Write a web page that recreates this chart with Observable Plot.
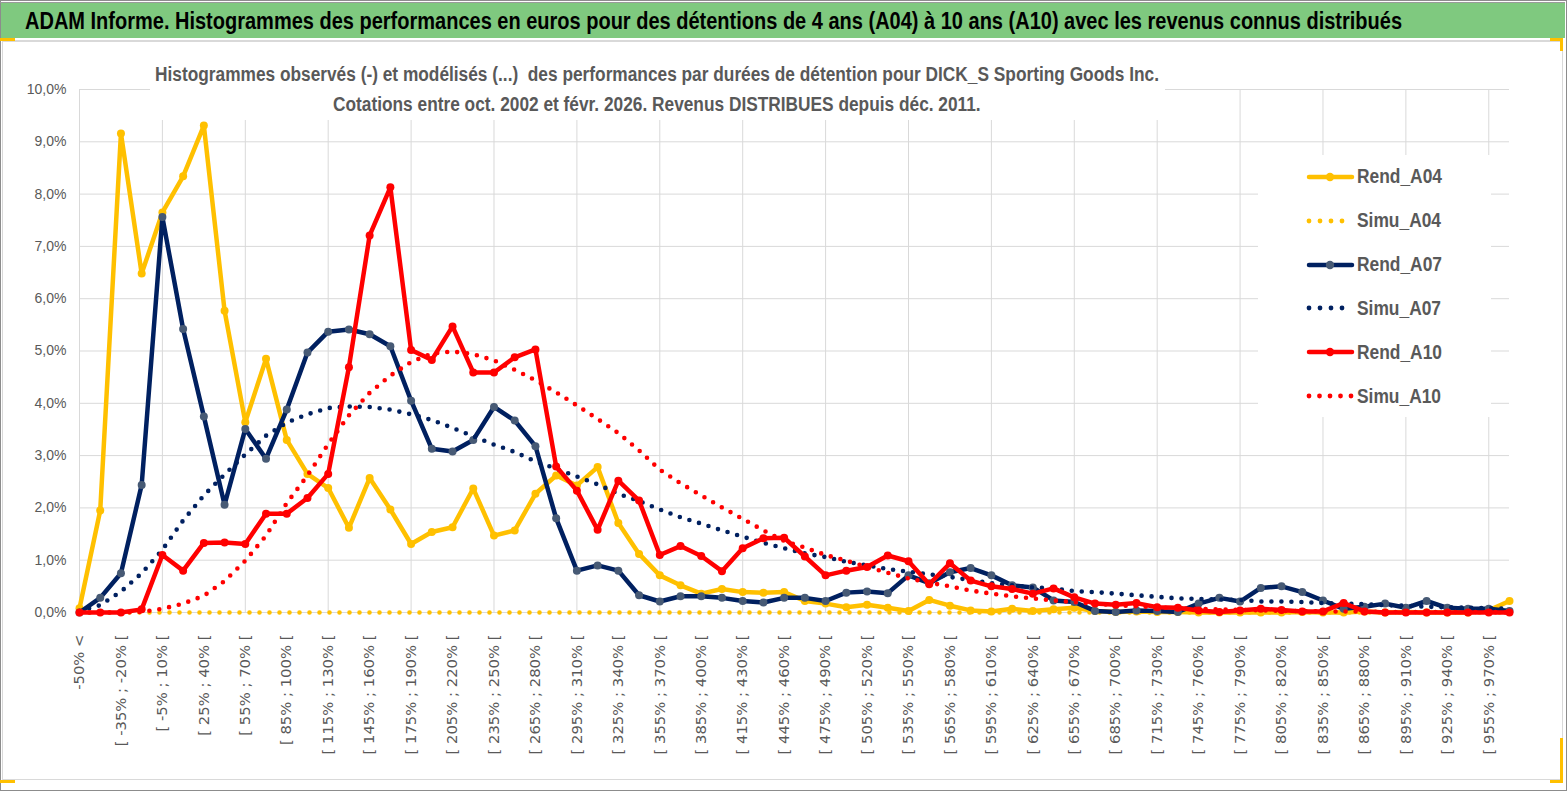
<!DOCTYPE html>
<html>
<head>
<meta charset="utf-8">
<script src="https://cdn.jsdelivr.net/npm/d3@7"></script>
<script src="https://cdn.jsdelivr.net/npm/@observablehq/plot@0.6"></script>
<style>
  body { margin: 0; background: #fff; }
  #wrap { position: relative; width: 1567px; height: 791px; overflow: hidden; background: #fff; font-family: "Liberation Sans", Arial, sans-serif; }
  #banner { position: absolute; left: 0; top: 3px; width: 1565px; height: 35px; background: #7fc97f; }
  #bannerText { position: absolute; left: 25px; top: 10px; font-weight: bold; font-size: 23px; line-height: 1; color: #000; white-space: pre; transform-origin: 0 0; }
  #plot { position: absolute; left: 0; top: 40px; }
  #titleBox { position: absolute; left: 150px; top: 56px; width: 1015px; height: 64px; background: #fff; }
  .tline { position: absolute; font-weight: bold; font-size: 20px; line-height: 1; color: #595959; white-space: pre; transform-origin: 0 0; }
  #legendBox { position: absolute; left: 1258px; top: 155px; width: 233px; height: 262px; background: #fff; }
  .ltext { position: absolute; left: 1357px; font-weight: bold; font-size: 19.5px; line-height: 1; color: #595959; white-space: pre; transform-origin: 0 0; }
  .lsw { position: absolute; left: 1300px; width: 60px; height: 16px; }
  .deco { position: absolute; }
</style>
</head>
<body>
<div id="wrap">
  <div id="banner"></div>
  <div id="bannerText">ADAM Informe. Histogrammes des performances en euros pour des détentions de 4 ans (A04) à 10 ans (A10) avec les revenus connus distribués</div>
  <div id="plot"></div>
  <div id="titleBox"></div>
  <div class="tline" id="t1" style="top:64px;left:155px;">Histogrammes observés (-) et modélisés (...)  des performances par durées de détention pour DICK_S Sporting Goods Inc.</div>
  <div class="tline" id="t2" style="top:94px;left:330px;">Cotations entre oct. 2002 et févr. 2026. Revenus DISTRIBUES depuis déc. 2011.</div>
  <div id="legendBox"></div>
  <div id="legend"></div>
  <!-- frame decorations -->
  <div class="deco" style="left:0;top:0;width:1565px;height:789px;border:1px solid #8c8c8c;"></div>
  <div class="deco" style="left:0;top:2px;width:1565px;height:1px;background:#9a9a9a;"></div>
  <div class="deco" style="left:2px;top:40px;width:1559px;height:737px;border:1px solid #d9d9d9;border-top:2px solid #d9d9d9;"></div>
  <div class="deco" style="left:0;top:38px;width:15px;height:3px;background:#ffc000;"></div>
  <div class="deco" style="left:1550px;top:38px;width:13px;height:3px;background:#ffc000;"></div>
  <div class="deco" style="left:1560px;top:38px;width:3px;height:13px;background:#ffc000;"></div>
  <div class="deco" style="left:0;top:780px;width:15px;height:3px;background:#ffc000;"></div>
  <div class="deco" style="left:1550px;top:780px;width:13px;height:3px;background:#ffc000;"></div>
  <div class="deco" style="left:1560px;top:738px;width:3px;height:45px;background:#ffc000;"></div>
</div>
<script>
// ---------- DATA ----------
const categories = [
  "-50% <",
  "[ -50% ; -35% [", "[ -35% ; -20% [", "[ -20% ; -5% [", "[ -5% ; 10% [", "[ 10% ; 25% [",
  "[ 25% ; 40% [", "[ 40% ; 55% [", "[ 55% ; 70% [", "[ 70% ; 85% [", "[ 85% ; 100% [",
  "[ 100% ; 115% [", "[ 115% ; 130% [", "[ 130% ; 145% [", "[ 145% ; 160% [", "[ 160% ; 175% [",
  "[ 175% ; 190% [", "[ 190% ; 205% [", "[ 205% ; 220% [", "[ 220% ; 235% [", "[ 235% ; 250% [",
  "[ 250% ; 265% [", "[ 265% ; 280% [", "[ 280% ; 295% [", "[ 295% ; 310% [", "[ 310% ; 325% [",
  "[ 325% ; 340% [", "[ 340% ; 355% [", "[ 355% ; 370% [", "[ 370% ; 385% [", "[ 385% ; 400% [",
  "[ 400% ; 415% [", "[ 415% ; 430% [", "[ 430% ; 445% [", "[ 445% ; 460% [", "[ 460% ; 475% [",
  "[ 475% ; 490% [", "[ 490% ; 505% [", "[ 505% ; 520% [", "[ 520% ; 535% [", "[ 535% ; 550% [",
  "[ 550% ; 565% [", "[ 565% ; 580% [", "[ 580% ; 595% [", "[ 595% ; 610% [", "[ 610% ; 625% [",
  "[ 625% ; 640% [", "[ 640% ; 655% [", "[ 655% ; 670% [", "[ 670% ; 685% [", "[ 685% ; 700% [",
  "[ 700% ; 715% [", "[ 715% ; 730% [", "[ 730% ; 745% [", "[ 745% ; 760% [", "[ 760% ; 775% [",
  "[ 775% ; 790% [", "[ 790% ; 805% [", "[ 805% ; 820% [", "[ 820% ; 835% [", "[ 835% ; 850% [",
  "[ 850% ; 865% [", "[ 865% ; 880% [", "[ 880% ; 895% [", "[ 895% ; 910% [", "[ 910% ; 925% [",
  "[ 925% ; 940% [", "[ 940% ; 955% [", "[ 955% ; 970% [",
  "> 970%"
];

// values in %
const rendA04 = [
  0.08, 1.95, 9.16, 6.48, 7.65, 8.34, 9.31, 5.77, 3.64, 4.85,
  3.30, 2.65, 2.38, 1.62, 2.57, 1.97, 1.31, 1.54, 1.63, 2.37,
  1.47, 1.57, 2.27, 2.62, 2.43, 2.78, 1.71, 1.12, 0.71, 0.52,
  0.36, 0.45, 0.39, 0.38, 0.39, 0.22, 0.17, 0.10, 0.15, 0.09,
  0.03, 0.24, 0.13, 0.04, 0.02, 0.07, 0.03, 0.06, 0.09, 0.03,
  0.01, 0.02, 0.01, 0.01, 0.00, 0.00, 0.00, 0.00, 0.00, 0.01,
  0.00, 0.00, 0.02, 0.00, 0.01, 0.00, 0.00, 0.00, 0.04, 0.22
];
const simuA04 = [
  0, 0, 0, 0, 0, 0, 0, 0, 0, 0,
  0, 0, 0, 0, 0, 0, 0, 0, 0, 0,
  0, 0, 0, 0, 0, 0, 0, 0, 0, 0,
  0, 0, 0, 0, 0, 0, 0, 0, 0, 0,
  0, 0, 0, 0, 0, 0, 0, 0, 0, 0,
  0, 0, 0, 0, 0, 0, 0, 0, 0, 0,
  0, 0, 0, 0, 0, 0, 0, 0, 0, 0
];
const rendA07 = [
  0.00, 0.28, 0.75, 2.44, 7.56, 5.42, 3.75, 2.06, 3.51, 2.94,
  3.88, 4.97, 5.37, 5.41, 5.32, 5.09, 4.05, 3.13, 3.08, 3.30,
  3.93, 3.67, 3.18, 1.80, 0.80, 0.90, 0.80, 0.33, 0.21, 0.31,
  0.31, 0.28, 0.22, 0.19, 0.28, 0.28, 0.22, 0.38, 0.40, 0.37,
  0.71, 0.56, 0.77, 0.85, 0.71, 0.52, 0.48, 0.23, 0.20, 0.03,
  0.01, 0.04, 0.03, 0.01, 0.17, 0.28, 0.21, 0.47, 0.50, 0.39,
  0.23, 0.07, 0.11, 0.17, 0.09, 0.22, 0.09, 0.07, 0.07, 0.03
];
const simuA07 = [
  0.03, 0.14, 0.40, 0.75, 1.20, 1.76, 2.24, 2.64, 3.02, 3.38,
  3.63, 3.79, 3.91, 3.94, 3.93, 3.88, 3.79, 3.68, 3.53, 3.37,
  3.21, 3.07, 2.89, 2.75, 2.60, 2.45, 2.27, 2.13, 1.97, 1.82,
  1.70, 1.57, 1.45, 1.33, 1.23, 1.13, 1.06, 0.97, 0.90, 0.83,
  0.78, 0.73, 0.68, 0.62, 0.56, 0.52, 0.48, 0.46, 0.41, 0.39,
  0.36, 0.33, 0.30, 0.27, 0.26, 0.25, 0.24, 0.21, 0.21, 0.20,
  0.18, 0.17, 0.16, 0.14, 0.13, 0.11, 0.10, 0.09, 0.08, 0.07
];
const rendA10 = [
  0.00, 0.00, 0.00, 0.06, 1.10, 0.80, 1.33, 1.34, 1.31, 1.89,
  1.89, 2.19, 2.65, 4.69, 7.21, 8.13, 5.02, 4.83, 5.47, 4.59,
  4.59, 4.88, 5.03, 2.79, 2.33, 1.58, 2.52, 2.14, 1.10, 1.27,
  1.08, 0.79, 1.23, 1.42, 1.43, 1.07, 0.71, 0.80, 0.87, 1.09,
  0.98, 0.54, 0.94, 0.61, 0.50, 0.45, 0.36, 0.46, 0.29, 0.17,
  0.15, 0.18, 0.10, 0.09, 0.04, 0.01, 0.04, 0.07, 0.05, 0.02,
  0.02, 0.18, 0.02, 0.00, 0.00, 0.00, 0.00, 0.00, 0.00, 0.00
];
const simuA10 = [
  0.00, 0.00, 0.00, 0.01, 0.07, 0.17, 0.32, 0.60, 0.99, 1.47,
  2.09, 2.62, 3.22, 3.77, 4.20, 4.53, 4.79, 4.95, 4.99, 4.94,
  4.82, 4.64, 4.44, 4.21, 3.96, 3.70, 3.43, 3.10, 2.73, 2.47,
  2.24, 2.01, 1.79, 1.57, 1.37, 1.24, 1.10, 0.99, 0.87, 0.76,
  0.65, 0.57, 0.50, 0.42, 0.36, 0.31, 0.27, 0.23, 0.20, 0.17,
  0.14, 0.12, 0.10, 0.08, 0.07, 0.06, 0.05, 0.04, 0.03, 0.03,
  0.02, 0.02, 0.02, 0.01, 0.01, 0.01, 0.01, 0.01, 0.01, 0.00
];
const yTicks = [0, 1, 2, 3, 4, 5, 6, 7, 8, 9, 10];
const seriesNames = ["Rend_A04", "Simu_A04", "Rend_A07", "Simu_A07", "Rend_A10", "Simu_A10"];

// ---------- STYLE ----------
const GOLD = "#ffc000", NAVY = "#002060", RED = "#ff0000";
const seriesDefs = [
  { name: seriesNames[0], values: rendA04, color: GOLD, marker: GOLD, dotted: false },
  { name: seriesNames[1], values: simuA04, color: GOLD, dotted: true },
  { name: seriesNames[2], values: rendA07, color: NAVY, marker: "#475a75", dotted: false },
  { name: seriesNames[3], values: simuA07, color: NAVY, dotted: true },
  { name: seriesNames[4], values: rendA10, color: RED, marker: RED, dotted: false },
  { name: seriesNames[5], values: simuA10, color: RED, dotted: true }
];

const gridCats = categories.filter((d, i) => i % 4 === 0 && i < 69);
const labelCats = categories.filter((d, i) => i % 2 === 0);
const fmt = d => d.toFixed(1).replace(".", ",") + "%";

const marks = [
  Plot.ruleY(yTicks, { stroke: "#d9d9d9", strokeWidth: 1 }),
  Plot.ruleX(gridCats, { stroke: "#d9d9d9", strokeWidth: 1 }),
  Plot.axisY({ ticks: yTicks, tickSize: 0, tickPadding: 13, tickFormat: fmt, fontSize: 14, fontFamily: "Liberation Sans", label: null }),
  Plot.axisX({ ticks: labelCats, tickSize: 0, tickPadding: 22, tickRotate: -90, fontSize: 14.8, fontFamily: "DejaVu Sans", label: null })
];
for (const s of seriesDefs) {
  const rows = categories.map((c, i) => ({ cat: c, v: s.values[i] }));
  if (s.dotted) {
    marks.push(Plot.line(rows, { x: "cat", y: "v", stroke: s.color, strokeWidth: 4.6, strokeDasharray: "0,10", strokeLinecap: "round" }));
  } else {
    marks.push(Plot.line(rows, { x: "cat", y: "v", stroke: s.color, strokeWidth: 4.5, strokeLinejoin: "round", strokeLinecap: "round" }));
    marks.push(Plot.dot(rows, { x: "cat", y: "v", r: 4, fill: s.marker, stroke: null }));
  }
}

const chart = Plot.plot({
  width: 1567,
  height: 751,
  marginLeft: 79,
  marginRight: 58,
  marginTop: 49,
  marginBottom: 179,
  x: { type: "point", domain: categories, padding: 0, align: 0.5 },
  y: { domain: [0, 10] },
  style: { background: "transparent", color: "#595959", overflow: "visible" },
  marks
});
document.getElementById("plot").appendChild(chart);

// ---------- LEGEND ----------
const legend = document.getElementById("legend");
const ns = "http://www.w3.org/2000/svg";
seriesDefs.forEach((s, i) => {
  const cy = 176.7 + 43.9 * i;
  const svg = document.createElementNS(ns, "svg");
  svg.setAttribute("class", "lsw");
  svg.setAttribute("width", 60); svg.setAttribute("height", 16);
  svg.style.top = (cy - 8) + "px";
  if (s.dotted) {
    const n = i === 5 ? 5 : 4;
    for (let k = 0; k < n; k++) {
      const c = document.createElementNS(ns, "circle");
      c.setAttribute("cx", 9 + k * (i === 5 ? 10.5 : 11));
      c.setAttribute("cy", 8); c.setAttribute("r", 2.4);
      c.setAttribute("fill", s.color);
      svg.appendChild(c);
    }
  } else {
    const l = document.createElementNS(ns, "line");
    l.setAttribute("x1", 9); l.setAttribute("x2", 52); l.setAttribute("y1", 8); l.setAttribute("y2", 8);
    l.setAttribute("stroke", s.color); l.setAttribute("stroke-width", 4.5); l.setAttribute("stroke-linecap", "round");
    svg.appendChild(l);
    const c = document.createElementNS(ns, "circle");
    c.setAttribute("cx", 30); c.setAttribute("cy", 8); c.setAttribute("r", 4.2); c.setAttribute("fill", s.marker);
    svg.appendChild(c);
  }
  legend.appendChild(svg);
  const t = document.createElement("div");
  t.className = "ltext";
  t.textContent = s.name;
  t.style.top = (cy - 9.5) + "px";
  legend.appendChild(t);
});

// ---------- TEXT FITTING (reference text is horizontally condensed) ----------
function fitAll() {
  const b = document.getElementById("bannerText");
  b.style.transform = "none";
  const bw = b.getBoundingClientRect().width;
  b.style.transform = `scaleX(${1377 / bw})`;

  const t1 = document.getElementById("t1"), t2 = document.getElementById("t2");
  t1.style.transform = "none"; t2.style.transform = "none";
  const w1 = t1.getBoundingClientRect().width, w2 = t2.getBoundingClientRect().width;
  const k = 1004 / w1;
  t1.style.transform = `scaleX(${k})`;
  t2.style.left = (657 - k * w2 / 2) + "px";
  t2.style.transform = `scaleX(${k})`;

  const lts = Array.from(document.querySelectorAll(".ltext"));
  lts.forEach(e => e.style.transform = "none");
  const lw = lts[0].getBoundingClientRect().width;
  const lk = 85 / lw;
  lts.forEach(e => e.style.transform = `scaleX(${lk})`);
}
fitAll();
if (document.fonts && document.fonts.ready) document.fonts.ready.then(fitAll);
</script>
</body>
</html>
